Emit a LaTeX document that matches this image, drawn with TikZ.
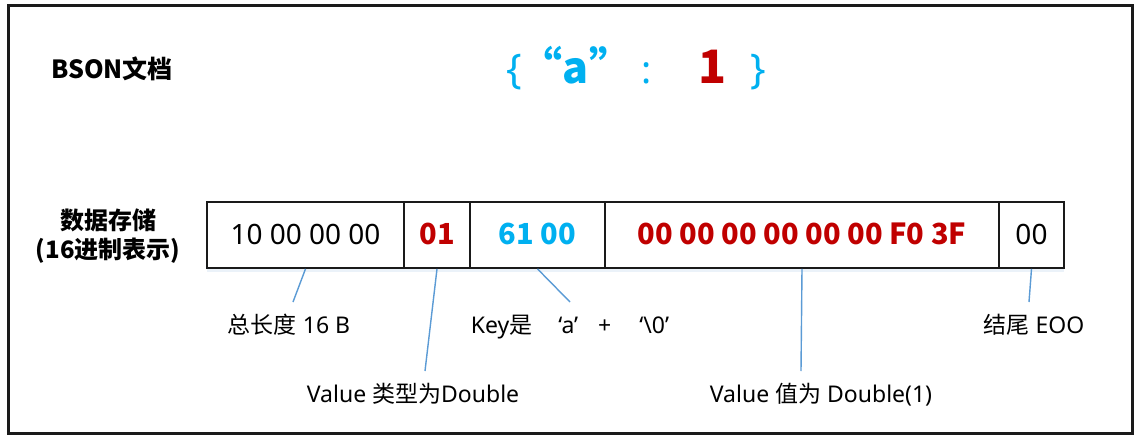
\documentclass[tikz,border=0pt]{standalone}
\usepackage{fontspec}
\setmainfont{Noto Sans}
\newfontfamily\cjk{Noto Sans CJK SC}
\newcommand\bcjk{\cjk\bfseries}
\usetikzlibrary{shadows}
\definecolor{kblue}{HTML}{00B0F0}
\definecolor{kred}{HTML}{C00000}
\definecolor{lnk}{HTML}{5B9BD5}
\definecolor{edge}{HTML}{1A1A1A}
\begin{document}
\begin{tikzpicture}[x=1pt,y=-1pt,
  cell/.style={draw=edge, fill=white, line width=1.8pt, minimum height=66pt, inner sep=0pt,
    drop shadow={opacity=0.12, fill=lnk, shadow xshift=0pt, shadow yshift=-4pt}},
  lbl/.style={anchor=base, inner sep=0pt, font=\fontsize{23}{26}\selectfont},
  cval/.style={anchor=base, inner sep=0pt, font=\fontsize{28}{30}\selectfont},
  bval/.style={anchor=base, inner sep=0pt, font=\fontsize{29}{31}\bcjk},
  head/.style={anchor=base, inner sep=0pt, font=\fontsize{25}{28}\bcjk},
  top/.style={anchor=base, inner sep=0pt, text=kblue},
  conn/.style={draw=lnk, line width=1.4pt}]
\useasboundingbox (0,0) rectangle (1141,447);
\fill[white] (0,0) rectangle (1141,447);
\draw[line width=3pt, edge] (8,5) rectangle (1132,433);

% headings
\node[head] (hbson) at (112,78) {BSON文档};
\node[head, font=\fontsize{24}{28}\bcjk] (hdata) at (108,229) {数据存储};
\node[head, font=\fontsize{24}{28}\bcjk] (hhex) at (108,258) {(16进制表示)};

% top expression
\node[top, font=\fontsize{41}{43}\selectfont] (lb) at (514,83) {\{};
\node[top, font=\fontsize{43}{45}\bcjk] (ka) at (576,83) {“a”};
\node[top, font=\fontsize{38}{40}\selectfont] (col) at (647,83) {:};
\node[top, text=kred, font=\fontsize{46}{48}\bcjk] (one) at (712,83) {1};
\node[top, font=\fontsize{41}{43}\selectfont] (rb) at (758,83) {\}};

% byte cells
\node[cell, minimum width=197pt] (b1) at (305.5,235) {};
\node[cell, minimum width=66pt]  (b2) at (437,235) {};
\node[cell, minimum width=135pt] (b3) at (537.5,235) {};
\node[cell, minimum width=394pt] (b4) at (802,235) {};
\node[cell, minimum width=65pt]  (b5) at (1031.5,235) {};

\node[cval] (t1) at (305.5,244) {10 00 00 00};
\node[bval, text=kred] (t2) at (437,244) {01};
\node[bval, text=kblue] (t3) at (537.5,244) {61 00};
\node[bval, text=kred] (t4) at (802,244) {00 00 00 00 00 00 F0 3F};
\node[cval] (t5) at (1031.5,244) {00};

% leader end points
\coordinate (e1) at (293,302);
\coordinate (e2) at (425,371);
\coordinate (e3) at (570,302);
\coordinate (e4) at (801,371);
\coordinate (e5) at (1029,302);
\draw[conn] (b1.south) -- (e1);
\draw[conn] (b2.south) -- (e2);
\draw[conn] (b3.south) -- (e3);
\draw[conn] (b4.south) -- (e4);
\draw[conn] (b5.south) -- (e5);

% labels
\node[lbl] (l1) at (289,333) {{\cjk 总长度} 16 B};
\node[lbl] (l3) at (570,333) {Key{\cjk 是}\hspace{26pt}‘a’\hspace{20pt}+\hspace{28pt}‘\textbackslash 0’};
\node[lbl] (l5) at (1034,333) {{\cjk 结尾} EOO};
\node[lbl] (l2) at (413,402) {Value {\cjk 类型为}Double};
\node[lbl] (l4) at (821,402) {Value {\cjk 值为} Double(1)};
\end{tikzpicture}
\end{document}
